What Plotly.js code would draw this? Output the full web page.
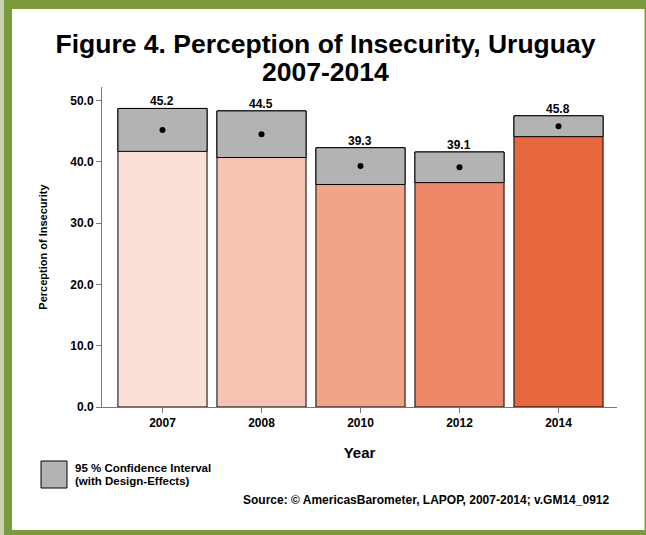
<!DOCTYPE html>
<html>
<head>
<meta charset="utf-8">
<script src="https://cdn.plot.ly/plotly-3.0.1.min.js"></script>
<style>
  html, body { margin: 0; padding: 0; background: #fff; }
  /* green report frame behind the chart */
  #frame { position: absolute; left: 0; top: 0; width: 646px; height: 535px; background: #c9d1b3; }
  #band  { position: absolute; left: 4px; top: 0; width: 642px; height: 535px; background: #7a9a3c; }
  #inner { position: absolute; left: 12px; top: 9px; width: 632px; height: 521px; background: #fff; border-right: 1px solid #c5cca4; }
  #chart { position: absolute; left: 0; top: 0; width: 646px; height: 535px; }
</style>
</head>
<body>
<div id="frame"><div id="band"></div><div id="inner"></div></div>
<div id="chart"></div>
<script>
// Survey waves and perception-of-insecurity estimates
const years = ['2007', '2008', '2010', '2012', '2014'];
const meanValues = [45.2, 44.5, 39.3, 39.1, 45.8];
// 95% confidence interval bounds (with design effects)
const ciLower = [41.7, 40.7, 36.3, 36.6, 44.1];
const ciUpper = [48.7, 48.3, 42.3, 41.6, 47.5];
const barColors = ['#fae0d6', '#f5c3b1', '#f0a48a', '#ec8767', '#e7673e'];
const yTickValues = [0, 10, 20, 30, 40, 50];

const W = 646, H = 535;
const M = { l: 102, r: 29, t: 87, b: 128 };
const pw = W - M.l - M.r, ph = H - M.t - M.b;
// pixel -> paper helpers for the legend, subtitle and source note
const px = x => (x - M.l) / pw;
const py = y => (H - M.b - y) / ph;

const FONT = 'Liberation Sans, Arial, Helvetica, sans-serif';
const bold = (size) => ({ family: FONT, size: size, color: '#000', weight: 'bold' });

const ciSpan = ciUpper.map((u, i) => u - ciLower[i]);
const xIndex = years.map((_, i) => i);

const traces = [
  {
    type: 'bar', x: years, y: ciUpper,
    marker: { color: barColors, line: { color: '#000', width: 1 } },
    width: 0.9, hoverinfo: 'skip', showlegend: false
  },
  {
    type: 'bar', x: years, y: ciSpan, base: ciLower,
    marker: { color: '#b3b3b3', line: { color: '#000', width: 1 } },
    width: 0.9, hoverinfo: 'skip', showlegend: false
  },
  {
    type: 'scatter', mode: 'markers', x: years, y: meanValues,
    marker: { color: '#000', size: 6 },
    hoverinfo: 'skip', showlegend: false
  }
];

// mean value printed above each confidence box
const valueLabels = xIndex.map(i => ({
  x: i, y: ciUpper[i], xref: 'x', yref: 'y',
  text: meanValues[i].toFixed(1),
  showarrow: false, yanchor: 'bottom', yshift: -2,
  font: bold(12)
}));

const annotations = valueLabels.concat([
  {
    xref: 'paper', yref: 'paper', x: px(325.5), y: py(71.5), xanchor: 'center', yanchor: 'middle',
    text: '2007-2014', showarrow: false, font: bold(26.5)
  },
  {
    xref: 'paper', yref: 'paper', x: px(73), y: py(468), xanchor: 'left', yanchor: 'middle',
    text: '95 % Confidence Interval', showarrow: false, font: bold(11.5)
  },
  {
    xref: 'paper', yref: 'paper', x: px(73), y: py(480.5), xanchor: 'left', yanchor: 'middle',
    text: '(with Design-Effects)', showarrow: false, font: bold(11.5)
  },
  {
    xref: 'paper', yref: 'paper', x: px(611), y: py(500), xanchor: 'right', yanchor: 'middle',
    text: 'Source: © AmericasBarometer, LAPOP, 2007-2014; v.GM14_0912', showarrow: false, font: bold(12)
  }
]);

const shapes = [
  {
    type: 'rect', xref: 'paper', yref: 'paper',
    x0: px(41), x1: px(67), y0: py(488), y1: py(461),
    fillcolor: '#b3b3b3', line: { color: '#000', width: 1 }
  }
];

const layout = {
  width: W, height: H,
  margin: M,
  paper_bgcolor: 'rgba(0,0,0,0)',
  plot_bgcolor: 'rgba(0,0,0,0)',
  barmode: 'overlay',
  title: {
    text: 'Figure 4. Perception of Insecurity, Uruguay',
    font: bold(26.5),
    xref: 'container', x: 325.5 / W, xanchor: 'center',
    yref: 'container', y: 1 - 44 / H, yanchor: 'middle'
  },
  xaxis: {
    type: 'category',
    range: [-0.611, 4.591],
    showline: true, linecolor: '#777', linewidth: 1,
    ticks: 'outside', ticklen: 5, tickcolor: '#777',
    tickfont: bold(12),
    showgrid: false, zeroline: false, fixedrange: true,
    title: { text: 'Year', font: bold(15), standoff: 18 }
  },
  yaxis: {
    range: [0, 52.2],
    tickvals: yTickValues,
    ticktext: yTickValues.map(v => v.toFixed(1)),
    showline: true, linecolor: '#777', linewidth: 1,
    ticks: 'outside', ticklen: 5, tickcolor: '#777',
    tickfont: bold(12),
    showgrid: false, zeroline: false, fixedrange: true,
    title: { text: 'Perception of Insecurity', font: bold(11), standoff: 20 }
  },
  annotations: annotations,
  shapes: shapes,
  showlegend: false
};

Plotly.newPlot('chart', traces, layout, { staticPlot: true, displayModeBar: false });
</script>
</body>
</html>
